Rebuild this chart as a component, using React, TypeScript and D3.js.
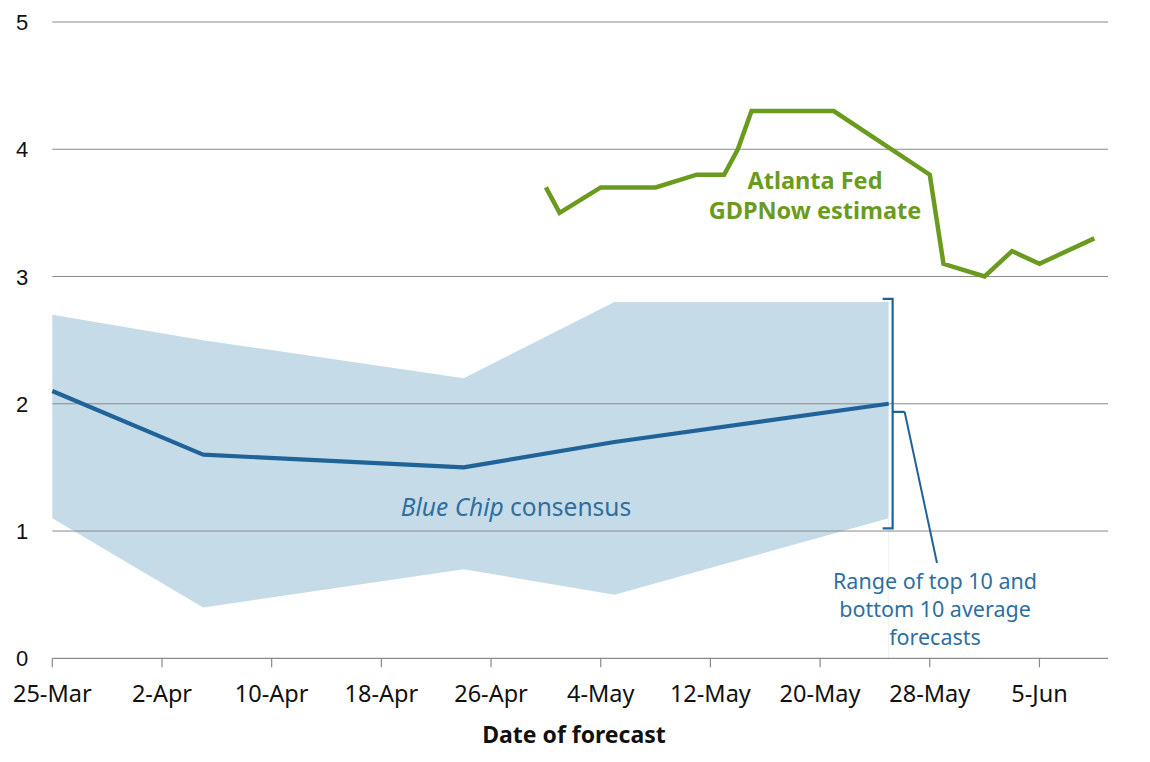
import React from "react";
import * as d3 from "d3";

const bcDates = ["2019-03-25", "2019-04-05", "2019-04-24", "2019-05-05", "2019-05-25"];
const bcConsensus = [2.1, 1.6, 1.5, 1.7, 2.0];
const bcTop10 = [2.7, 2.5, 2.2, 2.8, 2.8];
const bcBottom10 = [1.1, 0.4, 0.7, 0.5, 1.1];

const gdpDates = [
  "2019-04-30", "2019-05-01", "2019-05-04", "2019-05-08", "2019-05-11",
  "2019-05-13", "2019-05-14", "2019-05-15", "2019-05-21", "2019-05-28",
  "2019-05-29", "2019-06-01", "2019-06-03", "2019-06-05", "2019-06-09",
];
const gdpNow = [3.7, 3.5, 3.7, 3.7, 3.8, 3.8, 4.0, 4.3, 4.3, 3.8, 3.1, 3.0, 3.2, 3.1, 3.3];

const xTickDates = [
  "2019-03-25", "2019-04-02", "2019-04-10", "2019-04-18", "2019-04-26",
  "2019-05-04", "2019-05-12", "2019-05-20", "2019-05-28", "2019-06-05",
];
const yTicks = [0, 1, 2, 3, 4, 5];

const parse = d3.timeParse("%Y-%m-%d");

const W = 1150;
const H = 762;
const x = d3
  .scaleTime()
  .domain([parse("2019-03-25") as Date, parse("2019-06-10") as Date])
  .range([52.3, 1108]);
const y = d3.scaleLinear().domain([0, 5]).range([658.3, 22]);

const GREEN = "#6b9b1e";
const BLUE = "#1f6399";
const BAND = "#c5dbe8";
const ANNO = "#2e6f9f";
const GRID = "#8a8a8a";
const FONT = "'Noto Sans', 'Open Sans', sans-serif";

export default function App() {
  const bc = bcDates.map((d, i) => ({
    date: parse(d) as Date,
    mid: bcConsensus[i],
    hi: bcTop10[i],
    lo: bcBottom10[i],
  }));
  const gdp = gdpDates.map((d, i) => ({ date: parse(d) as Date, v: gdpNow[i] }));

  const area = d3
    .area<(typeof bc)[number]>()
    .x((d) => x(d.date))
    .y0((d) => y(d.lo))
    .y1((d) => y(d.hi));
  const bcLine = d3
    .line<(typeof bc)[number]>()
    .x((d) => x(d.date))
    .y((d) => y(d.mid));
  const gdpLine = d3
    .line<(typeof gdp)[number]>()
    .x((d) => x(d.date))
    .y((d) => y(d.v));

  const last = bc[bc.length - 1];
  const bx = x(last.date) + 4;
  const bTop = y(last.hi) - 3;
  const bBot = y(last.lo) + 10;
  const bMid = y(last.mid) + 8;
  const fmt = d3.timeFormat("%-d-%b");

  return (
    <svg
      width={W}
      height={H}
      style={{ position: "absolute", left: 0, top: 0, background: "#fff" }}
    >
      <path d={area(bc) || ""} fill={BAND} />
      <line x1={x(last.date)} x2={x(last.date)} y1={y(last.lo)} y2={y(0)} stroke="#eef2f5" strokeWidth={1} />
      {yTicks.slice(1).map((t) => (
        <line key={t} x1={x.range()[0]} x2={x.range()[1]} y1={y(t)} y2={y(t)} stroke={GRID} strokeWidth={1} />
      ))}
      <line x1={x.range()[0]} x2={x.range()[1]} y1={y(0)} y2={y(0)} stroke={GRID} strokeWidth={1.2} />
      {xTickDates.map((d) => {
        const dt = parse(d) as Date;
        return (
          <g key={d}>
            <line x1={x(dt)} x2={x(dt)} y1={y(0)} y2={y(0) + 9} stroke={GRID} strokeWidth={1.2} />
            <text x={x(dt)} y={702} textAnchor="middle" fontFamily={FONT} fontSize={23.5} fill="#111">
              {fmt(dt)}
            </text>
          </g>
        );
      })}
      {yTicks.map((t) => (
        <text key={t} x={22} y={y(t) + 8} textAnchor="middle" fontFamily="'Liberation Sans', Arial, sans-serif" fontSize={22} fill="#111">
          {t}
        </text>
      ))}
      <path d={bcLine(bc) || ""} fill="none" stroke={BLUE} strokeWidth={4.2} strokeLinejoin="round" />
      <path d={gdpLine(gdp) || ""} fill="none" stroke={GREEN} strokeWidth={4.5} strokeLinejoin="miter" />

      <text x={815} y={189} textAnchor="middle" fontFamily={FONT} fontWeight="bold" fontSize={23.5} fill={GREEN}>
        Atlanta Fed
      </text>
      <text x={815} y={219} textAnchor="middle" fontFamily={FONT} fontWeight="bold" fontSize={23.5} fill={GREEN}>
        GDPNow estimate
      </text>

      <text x={516} y={516} textAnchor="middle" fontFamily={FONT} fontSize={24.5} fill={ANNO}>
        <tspan fontStyle="italic">Blue Chip</tspan> consensus
      </text>

      <path
        d={`M${bx - 10},${bTop} H${bx} V${bBot} H${bx - 10} M${bx},${bMid} H${bx + 12}`}
        fill="none"
        stroke={BLUE}
        strokeWidth={2.2}
      />
      <line x1={bx + 12} y1={bMid} x2={937} y2={563} stroke={BLUE} strokeWidth={2} />
      {["Range of top 10 and", "bottom 10 average", "forecasts"].map((s, i) => (
        <text key={s} x={935} y={589 + i * 28} textAnchor="middle" fontFamily={FONT} fontSize={21.5} fill={ANNO}>
          {s}
        </text>
      ))}

      <text x={574} y={743} textAnchor="middle" fontFamily={FONT} fontWeight="bold" fontSize={23} fill="#111">
        Date of forecast
      </text>
    </svg>
  );
}
